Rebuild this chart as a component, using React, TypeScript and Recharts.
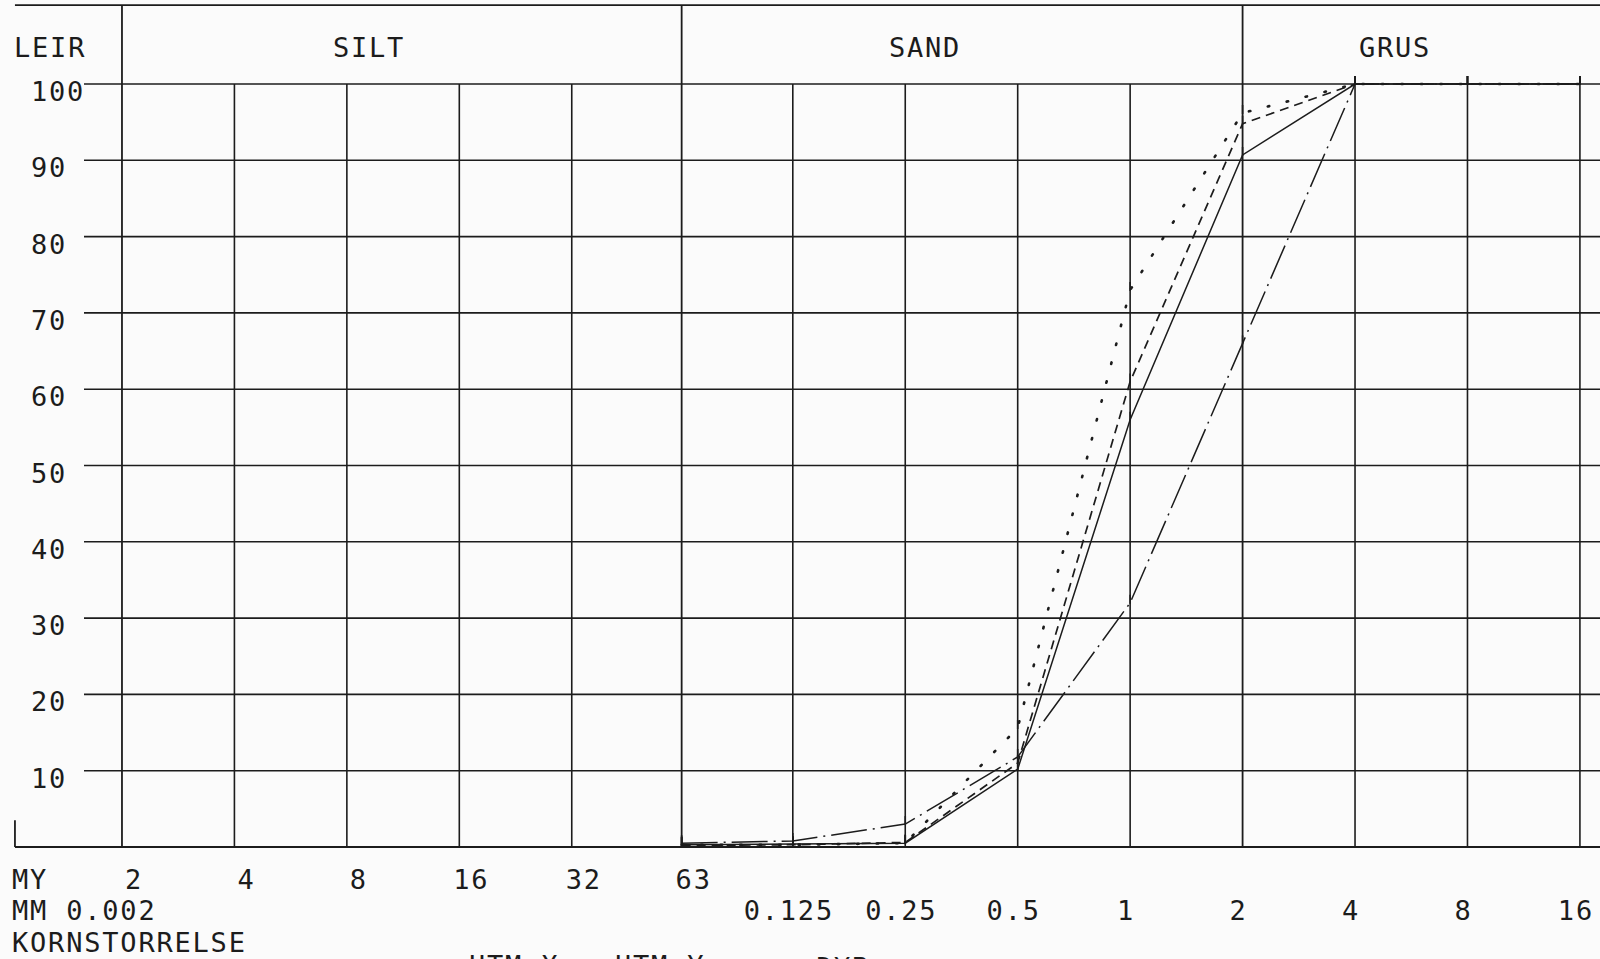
import { CartesianGrid, Line, LineChart, ReferenceLine, XAxis, YAxis } from "recharts";

// sieve sizes in mm, cumulative percent passing for the four samples
const SIZES_MM = [0.063, 0.125, 0.25, 0.5, 1, 2, 4, 8, 16];
const SOLID = [0.3, 0.4, 0.5, 10.2, 56, 90.7, 100, 100, 100];
const DASHED = [0.2, 0.3, 0.6, 11, 61, 94.8, 100, 100, 100];
const DOTTED = [0.3, 0.3, 0.5, 15.6, 73, 96.2, 100, 100, 100];
const DASHDOT = [0.5, 0.8, 3.0, 11.8, 32, 66, 100, 100, 100];

const X_TICKS = [0.002, 0.004, 0.008, 0.016, 0.032, 0.063, 0.125, 0.25, 0.5, 1, 2, 4, 8, 16];
const MY_LABELS = ["2", "4", "8", "16", "32", "63", "", "", "", "", "", "", "", ""];
const MM_LABELS = ["", "", "", "", "", "", "0.125", "0.25", "0.5", "1", "2", "4", "8", "16"];
const Y_TICKS = [0, 10, 20, 30, 40, 50, 60, 70, 80, 90, 100];
const ZONE_BOUNDS = [0.002, 0.063, 2];
const ZONES = ["LEIR", "SILT", "SAND", "GRUS"];
const CAPTIONS = ["MY", "MM 0.002", "KORNSTORRELSE"];
const FOOTER = ["UTM X", "UTM Y", "DYP m"];

const data = SIZES_MM.map((mm, i) => ({
  mm,
  solid: SOLID[i],
  dashed: DASHED[i],
  dotted: DOTTED[i],
  dashdot: DASHDOT[i],
}));

// axis extents (log2 grain scale, ~112 px per doubling)
const X_LO = 0.0015826;
const X_HI = 18.108;
const X_EDGE = 0.001034;
const Y_TOP = 110.35;

const ink = "#1c1c1c";
const paper = "#fbfbfb";
const font = "DejaVu Sans Mono, monospace";
const txt = { fontFamily: font, fontSize: 27, letterSpacing: 1.8, fill: ink };

const zoneX = [14, 369, 925, 1395];
const footerX = [469, 615, 816];
const captionY = [889, 920, 952];

function marker(p: any) {
  if (p.cx == null || p.cy == null) return <g key={p.index} />;
  return <line key={p.index} x1={p.cx} x2={p.cx} y1={p.cy - 8} y2={p.cy + 1} stroke={ink} strokeWidth={1.6} />;
}

function XTick(p: any) {
  const i = p.index;
  return (
    <g>
      {MY_LABELS[i] && (
        <text x={p.x + 12} y={captionY[0]} textAnchor="middle" {...txt}>
          {MY_LABELS[i]}
        </text>
      )}
      {MM_LABELS[i] && (
        <text x={p.x - 4} y={captionY[1]} textAnchor="middle" {...txt}>
          {MM_LABELS[i]}
        </text>
      )}
    </g>
  );
}

function YTick(p: any) {
  const v = p.payload.value;
  if (v === 0) return <g />;
  return (
    <text x={31} y={p.y + 17} textAnchor="start" {...txt}>
      {v}
    </text>
  );
}

export default function App() {
  return (
    <div style={{ position: "absolute", left: 0, top: 0, width: 1600, height: 959, overflow: "hidden", background: paper }}>
      <LineChart width={1600} height={959} data={data} margin={{ top: 84, right: 0, bottom: 0, left: 0 }}>
        <CartesianGrid stroke={ink} strokeWidth={1.6} vertical={false} />
        <XAxis
          dataKey="mm"
          type="number"
          scale="log"
          domain={[X_LO, X_HI]}
          ticks={X_TICKS}
          interval={0}
          height={112}
          axisLine={{ stroke: ink, strokeWidth: 1.8 }}
          tickLine={false}
          tick={<XTick />}
        />
        <YAxis
          type="number"
          domain={[0, 100]}
          ticks={Y_TICKS}
          interval={0}
          width={84}
          axisLine={false}
          tickLine={false}
          tick={<YTick />}
        />
        {X_TICKS.map((x) => (
          <ReferenceLine
            key={x}
            segment={[{ x, y: 0 }, { x, y: ZONE_BOUNDS.includes(x) ? Y_TOP : 100 }]}
            ifOverflow="visible"
            stroke={ink}
            strokeWidth={ZONE_BOUNDS.includes(x) ? 1.8 : 1.6}
          />
        ))}
        <ReferenceLine segment={[{ x: X_EDGE, y: Y_TOP }, { x: X_HI, y: Y_TOP }]} ifOverflow="visible" stroke={ink} strokeWidth={1.8} />
        <ReferenceLine segment={[{ x: X_EDGE, y: 0 }, { x: X_LO, y: 0 }]} ifOverflow="visible" stroke={ink} strokeWidth={1.8} />
        <ReferenceLine segment={[{ x: X_EDGE, y: 0 }, { x: X_EDGE, y: 3.5 }]} ifOverflow="visible" stroke={ink} strokeWidth={1.8} />
        <Line type="linear" dataKey="solid" stroke={ink} strokeWidth={1.5} dot={marker} isAnimationActive={false} />
        <Line type="linear" dataKey="dashed" stroke={ink} strokeWidth={1.7} strokeDasharray="9 6" dot={marker} isAnimationActive={false} />
        <Line type="linear" dataKey="dotted" stroke={ink} strokeWidth={2.6} strokeDasharray="1.5 18" strokeLinecap="round" dot={marker} isAnimationActive={false} />
        <Line type="linear" dataKey="dashdot" stroke={ink} strokeWidth={1.5} strokeDasharray="36 6 2 6" dot={marker} isAnimationActive={false} />
        {ZONES.map((z, i) => (
          <text key={z} x={zoneX[i]} y={57} textAnchor={i === 0 ? "start" : "middle"} {...txt}>
            {z}
          </text>
        ))}
        {CAPTIONS.map((c, i) => (
          <text key={c} x={12} y={captionY[i]} {...txt}>
            {c}
          </text>
        ))}
        {FOOTER.map((f, i) => (
          <text key={f} x={footerX[i]} y={975} {...txt} fontFamily={i === 2 ? "Liberation Mono, monospace" : font}>
            {f}
          </text>
        ))}
      </LineChart>
    </div>
  );
}
